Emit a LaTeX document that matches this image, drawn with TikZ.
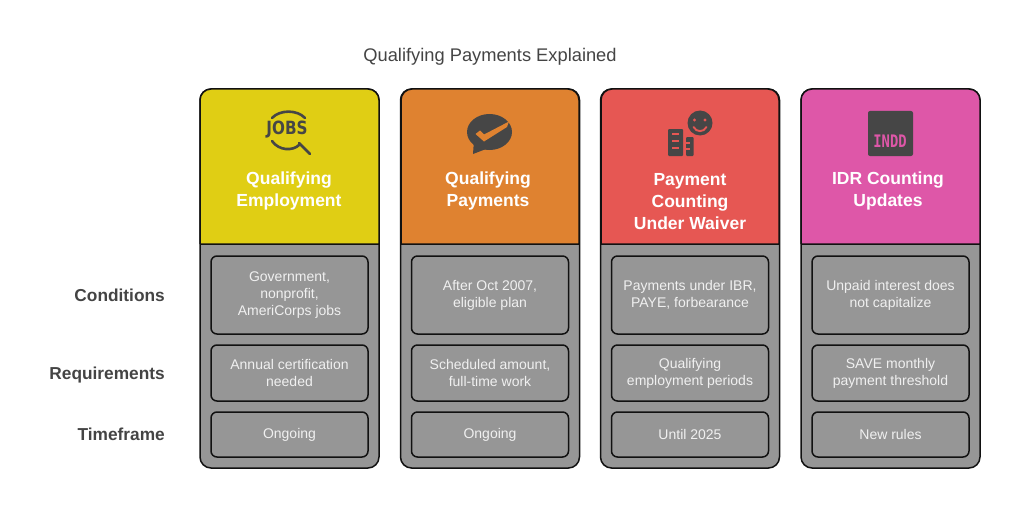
\documentclass[tikz,border=0pt]{standalone}
\usepackage{fontspec}
\setmainfont{Liberation Sans}
\newfontfamily\monoface{DejaVu Sans Mono}
\newfontfamily\jobsface{DejaVu Sans}
\usetikzlibrary{positioning}
\definecolor{titlegray}{RGB}{68,68,68}
\definecolor{icongray}{RGB}{70,70,70}
\definecolor{cardgray}{RGB}{150,150,150}
\definecolor{celltext}{RGB}{240,240,240}
\definecolor{edgeblack}{RGB}{17,17,17}
\definecolor{employcolor}{RGB}{224,206,20}
\definecolor{paycolor}{RGB}{223,130,48}
\definecolor{waivercolor}{RGB}{230,87,83}
\definecolor{idrcolor}{RGB}{222,87,168}

\begin{document}
\begin{tikzpicture}[
    x=1pt, y=-1pt,
    card/.style={draw=edgeblack, line width=1.5pt, fill=cardgray, rounded corners=11pt, minimum width=179pt, minimum height=379pt, inner sep=0pt},
    headpart/.style={draw=edgeblack, line width=1.5pt},
    cell/.style={draw=edgeblack, line width=1.5pt, rounded corners=6pt, minimum width=157pt, inner sep=0pt, align=center, text=celltext, font=\fontsize{14}{17}\selectfont},
    condcell/.style={cell, minimum height=78pt, execute at begin node={\rule{0pt}{12.5pt}}},
    reqcell/.style={cell, minimum height=56pt},
    timecell/.style={cell, minimum height=45pt},
    headtext/.style={align=center, text=white, inner sep=0pt, font=\fontsize{17.5}{22}\selectfont\bfseries},
    rowlabel/.style={anchor=base east, inner sep=0pt, text=titlegray, font=\fontsize{17.3}{20}\selectfont\bfseries}
]
    \useasboundingbox (0,0) rectangle (1024,524);

    % Title and row labels
    \node[inner sep=0pt, text=titlegray, font=\fontsize{18.3}{21}\selectfont] (title) at (490,57) {Qualifying Payments Explained};
    \node[rowlabel] (conditions) at (165,301) {Conditions};
    \node[rowlabel] (requirements) at (165,379) {Requirements};
    \node[rowlabel] (timeframe) at (165,440) {Timeframe};

    % Cards
    \node[card] (employcard) at (289.5,278.5) {};
    \node[card] (paycard) at (490,278.5) {};
    \node[card] (waivercard) at (690,278.5) {};
    \node[card] (idrcard) at (890.5,278.5) {};

    % Coloured heads
    \draw[headpart, fill=employcolor, rounded corners=11pt] (200,244) -- (200,89) -- (379,89) -- (379,244) (379,244) -- (200,244);
    \draw[headpart, fill=paycolor, rounded corners=11pt] (401,244) -- (401,89) -- (579,89) -- (579,244) (579,244) -- (401,244);
    \draw[headpart, fill=waivercolor, rounded corners=11pt] (601,244) -- (601,89) -- (779,89) -- (779,244) (779,244) -- (601,244);
    \draw[headpart, fill=idrcolor, rounded corners=11pt] (801,244) -- (801,89) -- (980,89) -- (980,244) (980,244) -- (801,244);

    % Head texts
    \node[headtext] (employhead) at (289,191) {Qualifying\\Employment};
    \node[headtext] (payhead) at (488,191) {Qualifying\\Payments};
    \node[headtext] (waiverhead) at (690,201.5) {Payment\\Counting\\Under Waiver};
    \node[headtext] (idrhead) at (888,191) {IDR Counting\\Updates};

    % Cells
    \node[condcell] (employcond) at (289.5,295) {Government,\\nonprofit,\\AmeriCorps jobs};
    \node[reqcell] (employreq) at (289.5,373) {Annual certification\\needed};
    \node[timecell] (employtime) at (289.5,434.5) {Ongoing};
    \node[condcell] (paycond) at (490,295) {After Oct 2007,\\eligible plan};
    \node[reqcell] (payreq) at (490,373) {Scheduled amount,\\full-time work};
    \node[timecell] (paytime) at (490,434.5) {Ongoing};
    \node[condcell] (waivercond) at (690,295) {Payments under IBR,\\PAYE, forbearance};
    \node[reqcell] (waiverreq) at (690,373) {Qualifying\\employment periods};
    \node[timecell] (waivertime) at (690,434.5) {Until 2025};
    \node[condcell] (idrcond) at (890.5,295) {Unpaid interest does\\not capitalize};
    \node[reqcell] (idrreq) at (890.5,373) {SAVE monthly\\payment threshold};
    \node[timecell] (idrtime) at (890.5,434.5) {New rules};

    % Jobs icon
    \node[inner sep=0pt, text=icongray, font=\fontsize{15.2}{16}\jobsface\bfseries] (jobsword) at (287,130) {\scalebox{1}[1.2]{JOBS}};
    \draw[icongray, line width=2.6pt, line cap=round] (272,118) .. controls (280,109.5) and (297,109.5) .. (305,118);
    \draw[icongray, line width=2.6pt, line cap=round] (272,141) .. controls (279,151) and (293,151) .. (299,145);
    \draw[icongray, line width=2.8pt, line cap=round] (299,143) -- (310,154);

    % Chat icon
    \fill[icongray] (489.5,132) ellipse [x radius=22.5, y radius=18];
    \fill[icongray] (474,140) -- (473,154) -- (486,149) -- cycle;
    \fill[paycolor] (475.5,134) -- (480,130.5) -- (484,134.5) -- (509,121.5) -- (507,127) -- (484,141.5) -- cycle;

    % Building and smile icon
    \fill[icongray, rounded corners=1pt] (668,129) rectangle (683,156);
    \fill[icongray, rounded corners=1pt] (686,137) rectangle (693.5,156);
    \foreach \wy in {134,141,148} {
        \draw[waivercolor, line width=1.7pt] (672,\wy) -- (679,\wy);
    }
    \foreach \wy in {143,149} {
        \draw[waivercolor, line width=1.4pt] (685.5,\wy) -- (690,\wy);
    }
    \fill[icongray] (700,123) circle [radius=12.5];
    \fill[waivercolor] (694.5,120) circle [radius=1.7];
    \fill[waivercolor] (705,120) circle [radius=1.7];
    \draw[waivercolor, line width=1.9pt, line cap=round] (693.5,127) .. controls (696.5,132.5) and (703.5,132.5) .. (706.5,127);

    % File icon
    \fill[icongray, rounded corners=2pt] (868,111) rectangle (913,156);
    \node[inner sep=0pt, text=idrcolor, font=\fontsize{13.8}{16}\monoface\bfseries] (inddword) at (890,141) {\scalebox{1}[1.25]{INDD}};
\end{tikzpicture}
\end{document}
